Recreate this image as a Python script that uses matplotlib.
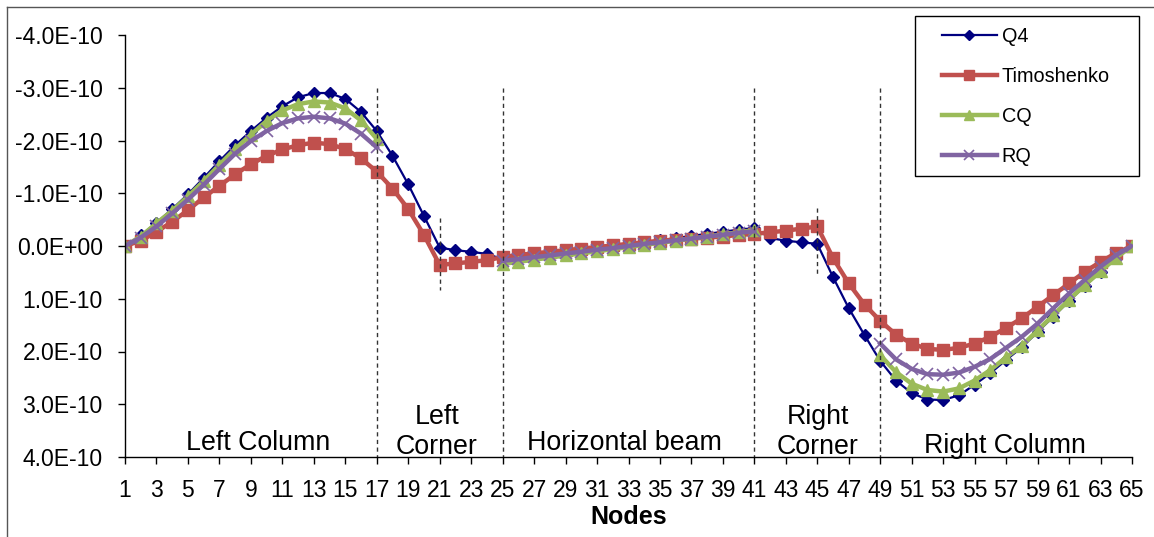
import numpy as np
import matplotlib
matplotlib.use("Agg")
import matplotlib.pyplot as plt
from matplotlib.ticker import FuncFormatter, FixedLocator
from matplotlib.lines import Line2D
from matplotlib.patches import Rectangle

plt.rcParams['font.family'] = ['Liberation Sans', 'DejaVu Sans']

nodes = np.arange(1, 66)
nan = np.nan

# values in units of 1E-10 (positive = downward on the reversed axis)
q4_left = [0, -0.20, -0.44, -0.70, -0.98, -1.29, -1.61, -1.91, -2.18, -2.43, -2.65, -2.82, -2.90, -2.90, -2.79, -2.54, -2.18]
q4_lcorner = [-1.71, -1.17, -0.57, 0.03, 0.08, 0.11, 0.15]
q4_beam = [0.25, 0.24, 0.21, 0.18, 0.14, 0.10, 0.06, 0.02, -0.02, -0.06, -0.11, -0.15, -0.19, -0.23, -0.27, -0.31, -0.34]
q4_rcorner = [-0.15, -0.10, -0.07, -0.04, 0.59, 1.18, 1.69]
q4_right = [2.18, 2.55, 2.79, 2.91, 2.92, 2.83, 2.63, 2.41, 2.16, 1.92, 1.63, 1.34, 1.04, 0.76, 0.49, 0.23, 0]

tim_left = [0, -0.10, -0.27, -0.46, -0.68, -0.92, -1.14, -1.36, -1.55, -1.71, -1.83, -1.91, -1.96, -1.93, -1.84, -1.66, -1.41]
tim_lcorner = [-1.09, -0.70, -0.21, 0.36, 0.33, 0.30, 0.27]
tim_beam = [0.21, 0.17, 0.14, 0.11, 0.08, 0.05, 0.02, -0.01, -0.04, -0.07, -0.10, -0.12, -0.14, -0.16, -0.18, -0.21, -0.23]
tim_rcorner = [-0.26, -0.29, -0.33, -0.37, 0.23, 0.71, 1.11]
tim_right = [1.42, 1.68, 1.85, 1.95, 1.97, 1.93, 1.85, 1.72, 1.55, 1.37, 1.15, 0.93, 0.71, 0.49, 0.30, 0.13, 0]

cq_left = [0, -0.18, -0.43, -0.67, -0.94, -1.23, -1.54, -1.84, -2.11, -2.37, -2.57, -2.69, -2.74, -2.72, -2.61, -2.38, -2.03]
cq_beam = [0.34, 0.30, 0.26, 0.22, 0.18, 0.14, 0.10, 0.06, 0.02, -0.02, -0.06, -0.10, -0.14, -0.18, -0.22, -0.26, -0.30]
cq_right = [2.07, 2.39, 2.61, 2.73, 2.76, 2.70, 2.55, 2.35, 2.11, 1.89, 1.60, 1.31, 1.02, 0.74, 0.48, 0.22, 0]

rq_left = [0, -0.16, -0.37, -0.62, -0.88, -1.16, -1.46, -1.75, -1.99, -2.18, -2.33, -2.42, -2.45, -2.42, -2.32, -2.13, -1.87]
rq_beam = [0.28, 0.25, 0.21, 0.18, 0.14, 0.11, 0.07, 0.04, 0.00, -0.04, -0.07, -0.11, -0.14, -0.18, -0.21, -0.25, -0.28]
rq_right = [1.85, 2.15, 2.33, 2.43, 2.44, 2.40, 2.29, 2.14, 1.93, 1.72, 1.47, 1.18, 0.90, 0.64, 0.39, 0.17, 0]

corner_gap = [nan] * 7

q4 = np.array(q4_left + q4_lcorner + q4_beam + q4_rcorner + q4_right) * 1e-10
tim = np.array(tim_left + tim_lcorner + tim_beam + tim_rcorner + tim_right) * 1e-10
cq = np.array(cq_left + corner_gap + cq_beam + corner_gap + cq_right) * 1e-10
rq = np.array(rq_left + corner_gap + rq_beam + corner_gap + rq_right) * 1e-10

series_names = ["Q4", "Timoshenko", "CQ", "RQ"]
section_bounds = [17, 25, 41, 49]
yticks = [-4e-10, -3e-10, -2e-10, -1e-10, 0, 1e-10, 2e-10, 3e-10, 4e-10]
xtick_nodes = list(range(1, 66, 2))

W, H = 1154, 537
fig = plt.figure(figsize=(W / 100, H / 100), dpi=100)

def fx(px):
    return px / W

def fy(py):
    return 1 - py / H

ax = fig.add_axes([fx(125), fy(457), fx(1132) - fx(125), fy(35) - fy(457)])

ax.plot(nodes, q4, color='#000080', lw=1.6, marker='D', ms=6.5, mfc='#000080', mec='#000080', label=series_names[0])
ax.plot(nodes, tim, color='#C0504D', lw=3.2, marker='s', ms=8.5, mfc='#C0504D', mec='#C0504D', label=series_names[1])
ax.plot(nodes, cq, color='#9BBB59', lw=3.2, marker='^', ms=8.5, mfc='#9BBB59', mec='#9BBB59', label=series_names[2])
ax.plot(nodes, rq, color='#8064A2', lw=3.2, marker='x', ms=8.5, mew=1.2, mec='#8064A2', label=series_names[3])

dash = (0, (3, 2.5))
for b in section_bounds:
    ax.plot([b, b], [-3.0e-10, 4e-10], color='#333333', lw=1.0, linestyle=dash, clip_on=False)
ax.plot([21, 21], [-0.53e-10, 0.83e-10], color='#333333', lw=1.0, linestyle=dash)
ax.plot([45, 45], [-0.72e-10, 0.57e-10], color='#333333', lw=1.0, linestyle=dash)

ax.set_xlim(1, 65)
ax.set_ylim(4e-10, -4e-10)
ax.yaxis.set_major_locator(FixedLocator(yticks))
ax.yaxis.set_major_formatter(FuncFormatter(lambda v, p: f"{v:.1E}" if abs(v) > 1e-15 else "0.0E+00"))
ax.xaxis.set_major_locator(FixedLocator(xtick_nodes))
ax.set_xticklabels([str(n) for n in xtick_nodes])

for s in ['top', 'right']:
    ax.spines[s].set_visible(False)
for s in ['left', 'bottom']:
    ax.spines[s].set_color('black')
    ax.spines[s].set_linewidth(1.0)

ax.tick_params(axis='y', direction='out', length=5, width=1, pad=11, labelsize=16.5)
ax.tick_params(axis='x', direction='out', length=5, width=1, pad=11, labelsize=16.5)

fig.text(fx(629), fy(517), "Nodes", ha='center', va='center', fontsize=18, fontweight='bold')

lab_fs = 19.3
fig.text(fx(258), fy(443), "Left Column", ha='center', va='center', fontsize=lab_fs)
fig.text(fx(437), fy(432), "Left\nCorner", ha='center', va='center', fontsize=lab_fs, linespacing=1.25)
fig.text(fx(624), fy(443), "Horizontal beam", ha='center', va='center', fontsize=lab_fs)
fig.text(fx(818), fy(432), "Right\nCorner", ha='center', va='center', fontsize=lab_fs, linespacing=1.25)
fig.text(fx(1005), fy(446), "Right Column", ha='center', va='center', fontsize=lab_fs)

# legend (frame drawn separately)
leg = ax.legend(loc='upper left', bbox_to_anchor=(fx(942), fy(27)), bbox_transform=fig.transFigure,
                frameon=False, fontsize=14.3,
                handlelength=2.75, handletextpad=0.25, labelspacing=1.05, borderpad=0,
                borderaxespad=0, markerscale=0.8)
fig.add_artist(Rectangle((fx(915), fy(176)), fx(1139) - fx(915), fy(16) - fy(176),
                         transform=fig.transFigure, fill=False, edgecolor='black', lw=1.0))

# chart area border (left and top)
fig.add_artist(Line2D([fx(7), fx(7)], [fy(7), 0], color='#555555', lw=1.0))
fig.add_artist(Line2D([fx(7), 1], [fy(7), fy(7)], color='#555555', lw=1.0))

fig.savefig("out.png", dpi=100)
